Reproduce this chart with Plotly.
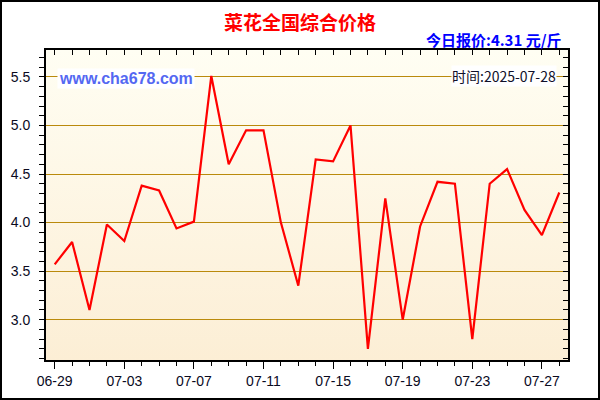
import base64
import plotly.graph_objects as go

dates = ["2025-06-29", "2025-06-30", "2025-07-01", "2025-07-02", "2025-07-03",
         "2025-07-04", "2025-07-05", "2025-07-06", "2025-07-07", "2025-07-08",
         "2025-07-09", "2025-07-10", "2025-07-11", "2025-07-12", "2025-07-13",
         "2025-07-14", "2025-07-15", "2025-07-16", "2025-07-17", "2025-07-18",
         "2025-07-19", "2025-07-20", "2025-07-21", "2025-07-22", "2025-07-23",
         "2025-07-24", "2025-07-25", "2025-07-26", "2025-07-27", "2025-07-28"]
prices = [3.57, 3.80, 3.10, 3.98, 3.81, 4.38, 4.33, 3.94, 4.01, 5.51,
          4.60, 4.95, 4.95, 4.00, 3.35, 4.65, 4.63, 5.00, 2.70, 4.25,
          3.00, 3.96, 4.42, 4.40, 2.80, 4.40, 4.55, 4.13, 3.87, 4.31]

title_text = "菜花全国综合价格"
quote_text = "今日报价:4.31 元/斤"
site_text = "www.cha678.com"
time_text = "时间:2025-07-28"

W, H = 600, 400
ML, MR, MT, MB = 46, 32, 50, 40
PW, PH = W - ML - MR, H - MT - MB

svg = ('<svg xmlns="http://www.w3.org/2000/svg" width="10" height="100" preserveAspectRatio="none">'
       '<defs><linearGradient id="g" x1="0" y1="0" x2="0" y2="1">'
       '<stop offset="0" stop-color="#FFFEF3"/><stop offset="1" stop-color="#FCEED5"/>'
       '</linearGradient></defs><rect width="10" height="100" fill="url(#g)"/></svg>')
svg_uri = "data:image/svg+xml;base64," + base64.b64encode(svg.encode()).decode()

fig = go.Figure()
fig.add_trace(go.Scatter(x=dates, y=prices, mode="lines",
                         line=dict(color="#FF0000", width=2.2),
                         hoverinfo="x+y", showlegend=False))
fig.add_trace(go.Scatter(x=dates, y=prices, mode="lines", xaxis="x2", yaxis="y2",
                         line=dict(color="rgba(0,0,0,0)", width=0),
                         hoverinfo="skip", showlegend=False))

tickfont = dict(family="Arial, Liberation Sans", size=14, color="#0a0a1e")
xr = ["2025-06-28 12:00", "2025-07-28 12:00"]
yr = [2.585, 5.777]
day = 86400000

fig.update_layout(
    width=W, height=H,
    margin=dict(l=ML, r=MR, t=MT, b=MB, pad=0),
    paper_bgcolor="white",
    plot_bgcolor="rgba(0,0,0,0)",
    xaxis=dict(type="date", range=xr, tick0="2025-06-29", dtick=4 * day,
               tickformat="%m-%d", ticks="outside", ticklen=7, tickwidth=1,
               tickcolor="black", showline=True, linecolor="black", linewidth=2,
               showgrid=False, zeroline=False, tickfont=tickfont,
               minor=dict(dtick=day, ticks="outside", ticklen=4, tickcolor="black", showgrid=False)),
    xaxis2=dict(type="date", range=xr, overlaying="x", side="top", anchor="y",
                tick0="2025-06-29", dtick=4 * day, ticks="inside", ticklen=5,
                tickcolor="black", showticklabels=False, showline=True,
                linecolor="black", linewidth=2, showgrid=False, zeroline=False,
                minor=dict(dtick=day, ticks="inside", ticklen=5, tickcolor="black", showgrid=False)),
    yaxis=dict(range=yr, tick0=0, dtick=0.5, tickformat=".1f", ticks="outside",
               ticklen=5, tickcolor="black", showline=True, linecolor="black",
               linewidth=2, showgrid=True, gridcolor="#BA8A0C", gridwidth=1,
               zeroline=False, tickfont=tickfont, ticklabelstandoff=6,
               minor=dict(dtick=0.1, ticks="outside", ticklen=5, tickcolor="black", showgrid=False)),
    yaxis2=dict(range=yr, overlaying="y", side="right", anchor="x", tick0=0, dtick=0.5,
                ticks="inside", ticklen=5, tickcolor="black", showticklabels=False,
                showline=True, linecolor="black", linewidth=2, showgrid=False,
                zeroline=False,
                minor=dict(dtick=0.1, ticks="inside", ticklen=5, tickcolor="black", showgrid=False)),
    images=[dict(source=svg_uri, xref="paper", yref="paper", x=0, y=1, sizex=1, sizey=1,
                 xanchor="left", yanchor="top", sizing="stretch", layer="below")],
    shapes=[dict(type="rect", xref="paper", yref="paper",
                 x0=(-ML + 1) / PW, x1=(PW + MR - 1) / PW,
                 y0=(-MB + 1) / PH, y1=(PH + MT - 1) / PH,
                 line=dict(color="black", width=2), fillcolor="rgba(0,0,0,0)")],
    annotations=[
        dict(text=title_text, xref="paper", yref="paper", x=(300 - ML) / PW,
             y=(H - MB - 22) / PH, xanchor="center", yanchor="middle", showarrow=False,
             font=dict(family="Noto Sans CJK SC", size=19, color="#FF0000", weight="bold")),
        dict(text=quote_text, xref="paper", yref="paper", x=(564 - ML) / PW,
             y=(H - MB - 39) / PH, xanchor="right", yanchor="middle", showarrow=False,
             font=dict(family="Noto Sans CJK SC", size=15, color="#0000FF", weight="bold")),
        dict(text=site_text, xref="paper", yref="paper", x=(57 - ML) / PW,
             y=(H - MB - 79) / PH, xanchor="left", yanchor="middle", showarrow=False,
             bgcolor="white", borderpad=1,
             font=dict(family="Arial, Liberation Sans", size=16, color="#5468F2", weight="bold")),
        dict(text=time_text, xref="paper", yref="paper", x=(557 - ML) / PW,
             y=(H - MB - 76) / PH, xanchor="right", yanchor="middle", showarrow=False,
             bgcolor="white", borderpad=0,
             font=dict(family="Noto Sans CJK SC", size=14, color="#10102a")),
    ],
)

fig.write_html("out.html", config={"displayModeBar": False},
               post_script="document.body.style.margin='0';document.body.style.overflow='hidden';")
